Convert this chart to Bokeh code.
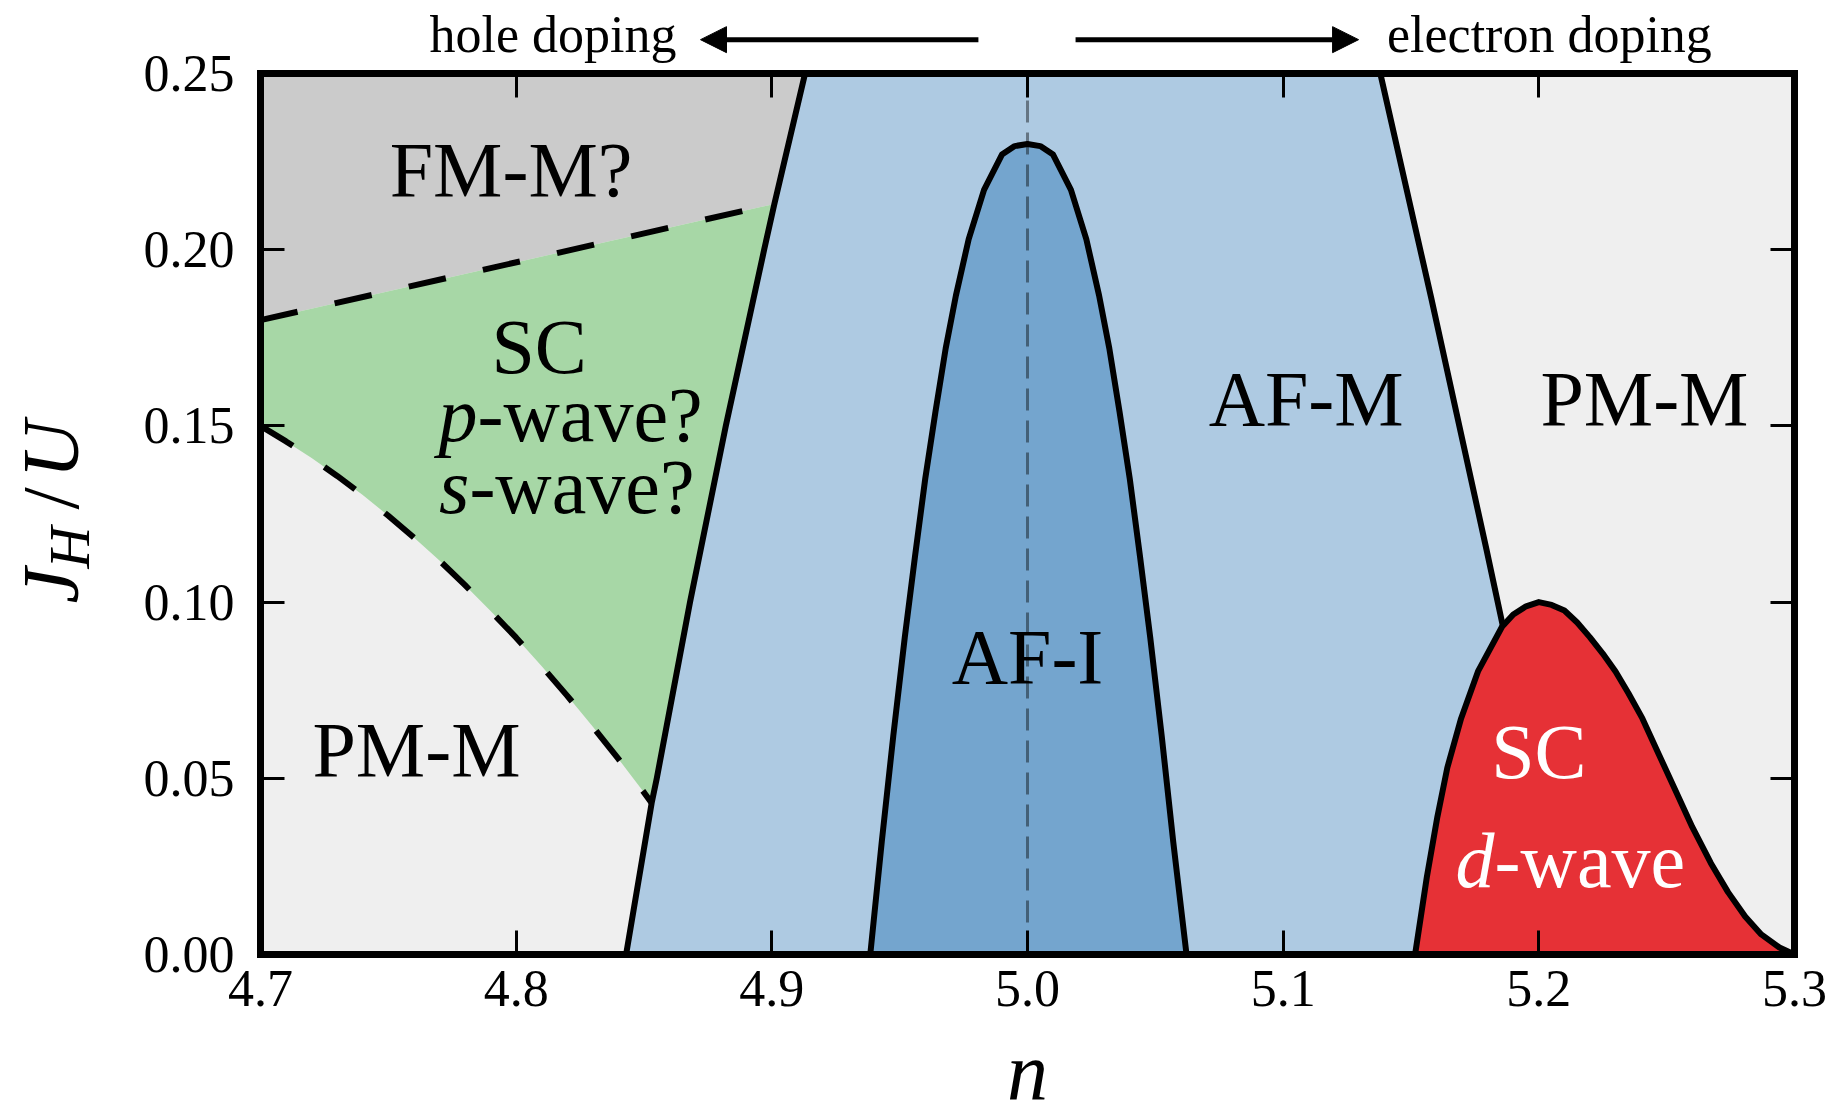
from math import pi

from bokeh.plotting import figure
from bokeh.models import (Range1d, LinearAxis, FixedTicker, PrintfTickFormatter,
                          CustomJSTickFormatter, Label, Arrow, NormalHead)
from bokeh.embed import file_html
from bokeh.resources import INLINE

# ---- axes -------------------------------------------------------------
x_ticks = [4.7, 4.8, 4.9, 5.0, 5.1, 5.2, 5.3]
y_ticks = [0.00, 0.05, 0.10, 0.15, 0.20, 0.25]

# ---- phase boundaries (n, J_H/U) ------------------------------------------
# left edge of the antiferromagnetic metal
afm_left_n = [4.843, 4.853, 4.855, 4.868, 4.882, 4.897, 4.901, 4.913]
afm_left_y = [0.000, 0.043, 0.050, 0.100, 0.150, 0.200, 0.213, 0.250]
# right edge of the antiferromagnetic metal (down to the d-wave dome)
afm_right_n = [5.138, 5.158, 5.1795, 5.186]
afm_right_y = [0.250, 0.186, 0.115, 0.093]
# FM-M / SC boundary (dashed)
fm_edge_n = [4.700, 4.901]
fm_edge_y = [0.180, 0.213]
# SC / PM-M boundary on the hole-doped side (dashed)
psc_edge_n = [4.700, 4.710, 4.720, 4.730, 4.740, 4.750, 4.760, 4.770, 4.780,
              4.790, 4.800, 4.810, 4.820, 4.830, 4.840, 4.850, 4.853]
psc_edge_y = [0.1500, 0.1456, 0.1409, 0.1358, 0.1304, 0.1245, 0.1183, 0.1118,
              0.1048, 0.0975, 0.0899, 0.0818, 0.0734, 0.0646, 0.0555, 0.0460,
              0.0430]
# antiferromagnetic insulator dome
afi_n = [4.9385, 4.9430, 4.9475, 4.9520, 4.9560, 4.9600, 4.9640, 4.9680,
         4.9720, 4.9770, 4.9830, 4.9900, 4.9950, 5.0000, 5.0050, 5.0100,
         5.0170, 5.0230, 5.0280, 5.0320, 5.0360, 5.0400, 5.0440, 5.0480,
         5.0525, 5.0570, 5.0622]
afi_y = [0.000, 0.032, 0.062, 0.090, 0.113, 0.135, 0.154, 0.172,
         0.187, 0.203, 0.217, 0.227, 0.2294, 0.2300, 0.2294, 0.227,
         0.217, 0.203, 0.187, 0.172, 0.154, 0.135, 0.113, 0.090,
         0.062, 0.032, 0.000]
# d-wave superconducting dome
dsc_n = [5.1516, 5.1562, 5.1603, 5.1642, 5.1696, 5.1763, 5.1856, 5.1900,
         5.1950, 5.2000, 5.2050, 5.2100, 5.2150, 5.2200, 5.2250, 5.2300,
         5.2350, 5.2405, 5.2470, 5.2539, 5.2600, 5.2673, 5.2740, 5.2807,
         5.2870, 5.2941, 5.3000]
dsc_y = [0.000, 0.022, 0.039, 0.053, 0.067, 0.0805, 0.093, 0.0965,
         0.0988, 0.1000, 0.0992, 0.0976, 0.0942, 0.0900, 0.0854, 0.0803,
         0.0742, 0.0670, 0.0567, 0.0458, 0.0362, 0.0259, 0.0177, 0.0108,
         0.0057, 0.0020, 0.000]

C_PM = "#efefef"
C_FM = "#cbcbcb"
C_PSC = "#a7d7a6"
C_AFM = "#aecae2"
C_AFI = "#74a5ce"
C_DSC = "#e63136"
FONT = "Liberation Serif"

# canvas layout: the frame spans the whole canvas, the axes sit at fixed
# data locations so that the margin texts are not clipped
W, H = 1836, 1119
PAD_L, PAD_R, PAD_T, PAD_B = 260, 42, 73, 165
KX = (x_ticks[-1] - x_ticks[0]) / (W - PAD_L - PAD_R)
KY = (y_ticks[-1] - y_ticks[0]) / (H - PAD_T - PAD_B)

p = figure(width=W, height=H, min_border=0,
           x_range=Range1d(x_ticks[0] - PAD_L * KX, x_ticks[-1] + PAD_R * KX),
           y_range=Range1d(y_ticks[0] - PAD_B * KY, y_ticks[-1] + PAD_T * KY),
           x_axis_location=None, y_axis_location=None,
           output_backend="svg", toolbar_location=None,
           background_fill_color="white", border_fill_color="white")
p.grid.visible = False
p.outline_line_color = None

XB = (x_ticks[0], x_ticks[-1])
YB = (y_ticks[0], y_ticks[-1])


def make_axis(ticks, loc, bounds, fmt=None):
    ax = LinearAxis(ticker=FixedTicker(ticks=ticks), fixed_location=loc,
                    bounds=bounds)
    ax.major_tick_in = 24
    ax.major_tick_out = 0
    ax.minor_tick_line_color = None
    ax.axis_line_width = 7
    ax.major_tick_line_width = 3
    ax.major_label_text_font = FONT
    ax.major_label_text_font_size = "52px"
    ax.major_label_text_color = "black"
    if fmt:
        ax.formatter = PrintfTickFormatter(format=fmt)
    else:
        ax.formatter = CustomJSTickFormatter(code="return ''")
    return ax


# plot area background
p.quad(left=XB[0], right=XB[1], bottom=YB[0], top=YB[1],
       fill_color=C_PM, line_color=None)

# ---- filled regions -----------------------------------------------------
fm_n = fm_edge_n + afm_left_n[7:] + [XB[0]]
fm_y = fm_edge_y + afm_left_y[7:] + [YB[1]]
p.patch(fm_n, fm_y, fill_color=C_FM, line_color=None)

psc_n = psc_edge_n + afm_left_n[2:7] + fm_edge_n[::-1]
psc_y = psc_edge_y + afm_left_y[2:7] + fm_edge_y[::-1]
p.patch(psc_n, psc_y, fill_color=C_PSC, line_color=None)

afm_n = afm_left_n + afm_right_n + dsc_n[6::-1][1:]
afm_y = afm_left_y + afm_right_y + dsc_y[6::-1][1:]
p.patch(afm_n, afm_y, fill_color=C_AFM, line_color=None)

p.patch(afi_n, afi_y, fill_color=C_AFI, line_color=None)
p.patch(dsc_n, dsc_y, fill_color=C_DSC, line_color=None)

# half filling guide
p.line([5.0, 5.0], [YB[0], YB[1]], line_color="black", line_alpha=0.42,
       line_width=3, line_dash="22 10")

# ---- boundaries -----------------------------------------------------------
p.line(fm_edge_n, fm_edge_y, line_color="black", line_width=6, line_dash="38 38")
p.line(psc_edge_n, psc_edge_y, line_color="black", line_width=6, line_dash="38 38")
for xs, ys in [(afm_left_n, afm_left_y), (afm_right_n, afm_right_y),
               (afi_n, afi_y), (dsc_n, dsc_y)]:
    p.line(xs, ys, line_color="black", line_width=6, line_join="round")

# frame and axes
p.quad(left=XB[0], right=XB[1], bottom=YB[0], top=YB[1],
       fill_color=None, line_color="black", line_width=7, line_join="miter")
p.add_layout(make_axis(x_ticks, YB[0], XB, "%.1f"), "below")
p.add_layout(make_axis(y_ticks, XB[0], YB, "%.2f"), "left")
p.add_layout(make_axis(x_ticks, YB[1], XB), "above")
p.add_layout(make_axis(y_ticks, XB[1], YB), "right")
p.below[0].major_label_standoff = 16
p.left[0].major_label_standoff = 26

# ---- text -------------------------------------------------------------------
SHIFT = 0.37  # baseline correction, in em


def put(txt, x, y, size=78, color="black", align="center", style="normal",
        angle=0.0):
    if angle:
        x -= SHIFT * size * KX
    else:
        y += SHIFT * size * KY
    p.add_layout(Label(x=x, y=y, text=txt, text_font=FONT,
                       text_font_size=f"{size}px", text_color=color,
                       text_align=align, text_font_style=style,
                       text_baseline="alphabetic", angle=angle))


put("FM-M?", 4.798, 0.2145)
put("SC", 4.809, 0.1643)
put("p", 4.7849, 0.145, align="right", style="italic")
put("-wave?", 4.7849, 0.145, align="left")
put("s", 4.7817, 0.1246, align="right", style="italic")
put("-wave?", 4.7817, 0.1246, align="left")
put("PM-M", 4.761, 0.0499)
put("AF-I", 5.000, 0.0763)
put("AF-M", 5.109, 0.1495)
put("PM-M", 5.2413, 0.1495)
put("SC", 5.200, 0.0494, color="white")
put("d", 5.1827, 0.0186, color="white", align="right", style="italic")
put("-wave", 5.1827, 0.0186, color="white", align="left")

# doping direction above the frame
put("hole doping", 4.8627, 0.2557, size=52, align="right")
put("electron doping", 5.1406, 0.2557, size=52, align="left")
for x0, x1 in [(4.9808, 4.8721), (5.0188, 5.1295)]:
    p.add_layout(Arrow(x_start=x0, y_start=0.2596, x_end=x1, y_end=0.2596,
                       line_width=5, line_color="black",
                       end=NormalHead(size=26, fill_color="black",
                                      line_color="black", line_width=1)))

# axis titles
put("n", 5.000, -0.0418, size=82, style="italic")
put("J", 4.6296, 0.0996, size=80, align="left", style="italic", angle=pi / 2)
put("H", 4.6335, 0.1095, size=58, align="left", style="italic", angle=pi / 2)
put("/", 4.6296, 0.1263, size=80, align="left", angle=pi / 2)
put("U", 4.6296, 0.1351, size=80, align="left", style="italic", angle=pi / 2)

open("out.html", "w").write(file_html(p, INLINE))
